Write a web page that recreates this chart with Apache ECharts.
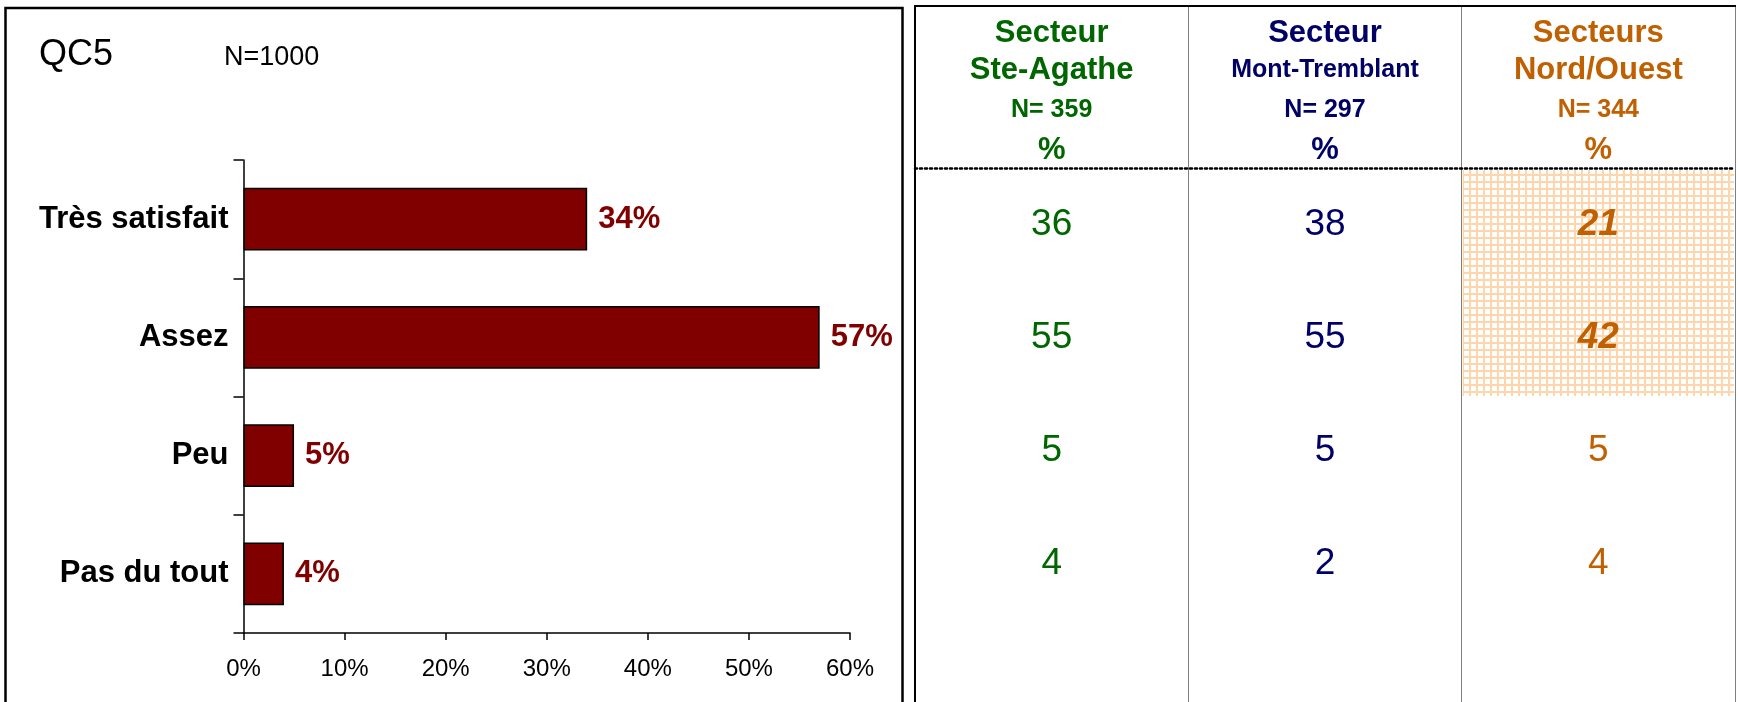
<!DOCTYPE html>
<html><head><meta charset="utf-8">
<script src="https://cdn.jsdelivr.net/npm/echarts@6/dist/echarts.min.js"></script>
<style>html,body{margin:0;padding:0;background:#fff}#c{width:1738px;height:702px}</style>
</head><body><div id="c"></div>
<script>
// ---- data ----
const questionId = 'QC5';
const totalN = 'N=1000';
const categories = ['Très satisfait', 'Assez', 'Peu', 'Pas du tout'];
const totalValues = [34, 57, 5, 4];
const xTickMin = 0, xTickMax = 60, xTickStep = 10;
const sectorIds = ['Ste-Agathe', 'Mont-Tremblant', 'Nord/Ouest'];
const headerLine1 = ['Secteur', 'Secteur', 'Secteurs'];
const headerLine2 = ['Ste-Agathe', 'Mont-Tremblant', 'Nord/Ouest'];
const headerN = ['N= 359', 'N= 297', 'N= 344'];
const headerUnit = ['%', '%', '%'];
const steAgathe = [36, 55, 5, 4];
const montTremblant = [38, 55, 5, 2];
const nordOuest = [21, 42, 5, 4];
const highlightedCells = [[2, 0], [2, 1]]; // [sector index, row index]

// ---- styles ----
const FONT = '"Liberation Sans", Arial, Helvetica, sans-serif';
const sectorColors = ['#006600', '#000066', '#C06000'];
const sectorValues = [steAgathe, montTremblant, nordOuest];

const pc = document.createElement('canvas');
pc.width = 7; pc.height = 7;
const pctx = pc.getContext('2d');
pctx.fillStyle = '#FFD6AC'; pctx.fillRect(0, 0, 7, 7);
pctx.fillStyle = '#FFFFFF'; pctx.fillRect(1, 1, 5, 5);
const hatch = { image: pc, repeat: 'repeat' };

const rich = {};
sectorIds.forEach((s, j) => {
  const c = sectorColors[j];
  rich['a' + j] = { color: c, fontFamily: FONT, fontWeight: 'bold', fontSize: 31, lineHeight: 38, align: 'center' };
  rich['b' + j] = { color: c, fontFamily: FONT, fontWeight: 'bold', fontSize: j === 1 ? 25 : 31, lineHeight: 36, align: 'center' };
  rich['n' + j] = { color: c, fontFamily: FONT, fontWeight: 'bold', fontSize: 25, lineHeight: 44, align: 'center' };
  rich['p' + j] = { color: c, fontFamily: FONT, fontWeight: 'bold', fontSize: 31, lineHeight: 36, align: 'center' };
});

const isHighlighted = (j, i) => highlightedCells.some(h => h[0] === j && h[1] === i);

const chart = echarts.init(document.getElementById('c'), null, { renderer: 'canvas' });
const tableSeries = sectorIds.map((s, j) => ({
  type: 'scatter', name: s, xAxisIndex: 1, yAxisIndex: 1,
  symbolSize: 0, silent: true, z: 5,
  itemStyle: { opacity: 1, color: sectorColors[j] },
  data: sectorValues[j].map((v, i) => ({
    value: [j, i, v],
    label: isHighlighted(j, i) ? { fontStyle: 'italic', fontWeight: 'bold' } : {}
  })),
  label: {
    show: true, position: 'inside', formatter: p => p.value[2], opacity: 1,
    color: sectorColors[j], fontFamily: FONT, fontSize: 37, fontWeight: 'normal'
  }
}));

chart.setOption({
  animation: false,
  backgroundColor: '#fff',
  title: [
    { text: questionId, left: 34, top: 32, textStyle: { fontFamily: FONT, fontSize: 36, fontWeight: 'normal', color: '#000' } },
    { text: totalN, left: 219, top: 39, textStyle: { fontFamily: FONT, fontSize: 27, fontWeight: 'normal', color: '#000' } }
  ],
  grid: [
    { left: 243.5, right: 1738 - 850, top: 160, bottom: 702 - 633 },
    { left: 915, right: 3, top: 168, bottom: 82 },
    { left: 915, right: 3, top: 6, bottom: 0 }
  ],
  xAxis: [
    {
      gridIndex: 0, type: 'value', min: xTickMin, max: xTickMax, interval: xTickStep,
      axisLine: { show: true, lineStyle: { color: '#000', width: 1.5 } },
      axisTick: { show: true, length: 7, lineStyle: { color: '#000', width: 1.5 } },
      axisLabel: { formatter: '{value}%', fontFamily: FONT, fontSize: 24, color: '#000', margin: 24 },
      splitLine: { show: false }
    },
    {
      gridIndex: 1, type: 'category', data: sectorIds, position: 'top',
      axisLine: { show: true, lineStyle: { color: '#000', width: 2.5, type: [2, 3] } },
      axisTick: { show: false },
      axisLabel: {
        interval: 0, margin: 0, rich,
        formatter: (v, j) => `{a${j}|${headerLine1[j]}}\n{b${j}|${headerLine2[j]}}\n{n${j}|${headerN[j]}}\n{p${j}|${headerUnit[j]}}`
      },
      splitLine: { show: false }
    },
    {
      gridIndex: 2, type: 'category', data: sectorIds,
      axisLine: { show: false }, axisTick: { show: false }, axisLabel: { show: false },
      splitLine: { show: true, lineStyle: { color: '#7f7f7f', width: 1 } }
    }
  ],
  yAxis: [
    {
      gridIndex: 0, type: 'category', data: categories, inverse: true,
      axisLine: { show: true, lineStyle: { color: '#000', width: 1.5 } },
      axisTick: { show: true, length: 10, lineStyle: { color: '#000', width: 1.5 } },
      axisLabel: { fontFamily: FONT, fontSize: 31, fontWeight: 'bold', color: '#000', margin: 15 },
      splitLine: { show: false }
    },
    {
      gridIndex: 1, type: 'category', data: categories, inverse: true, show: false
    },
    {
      gridIndex: 2, type: 'value', min: 0, max: 1, show: false
    }
  ],
  series: [
    {
      type: 'bar', xAxisIndex: 0, yAxisIndex: 0, data: totalValues, barWidth: '53%',
      itemStyle: { color: '#800000', borderColor: '#000', borderWidth: 1.5 },
      label: {
        show: true, position: 'right', distance: 11, formatter: '{c}%',
        fontFamily: FONT, fontSize: 31, fontWeight: 'bold', color: '#800000'
      }
    },
    {
      type: 'custom', xAxisIndex: 1, yAxisIndex: 1, silent: true, z: 1,
      data: highlightedCells,
      renderItem: (params, api) => {
        const p = api.coord([api.value(0), api.value(1)]);
        const s = api.size([1, 1]);
        return {
          type: 'rect',
          shape: { x: p[0] - s[0] / 2 + 1, y: p[1] - s[1] / 2 + 2, width: s[0] - 2, height: s[1] },
          style: { fill: hatch }
        };
      }
    },
    ...tableSeries
  ],
  graphic: [
    { type: 'rect', z: 100, silent: true, shape: { x: 5.5, y: 8, width: 897, height: 710 }, style: { fill: null, stroke: '#000', lineWidth: 2.5 } },
    { type: 'polyline', z: 100, silent: true, shape: { points: [[915, 712], [915, 6], [1736, 6]] }, style: { fill: null, stroke: '#000', lineWidth: 2 } }
  ]
});
</script>
</body></html>
